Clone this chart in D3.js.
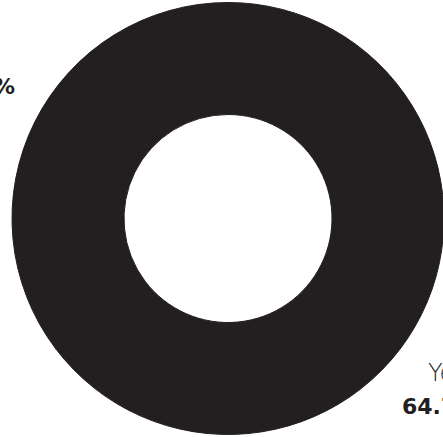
<!DOCTYPE html>
<html><head><meta charset="utf-8">
<script src="https://cdn.jsdelivr.net/npm/d3@7"></script>
<style>html,body{margin:0;padding:0;background:#fff;overflow:hidden}</style>
</head><body>
<svg id="c" width="443" height="437"></svg>
<script>
const categories = ["Yes", "No"];
const values = [64.7, 35.3];
const colors = ["#231f20", "#231f20"];

const cx = 228, cy = 218.5, rOuter = 216, rInner = 104;
const svg = d3.select("#c");
const data = categories.map((c, i) => ({cat: c, val: values[i]}));
const pie = d3.pie().value(d => d.val).sort(null).startAngle(0);
const arc = d3.arc().innerRadius(rInner).outerRadius(rOuter);
const g = svg.append("g").attr("transform", `translate(${cx},${cy})`);
g.selectAll("path").data(pie(data)).join("path")
  .attr("d", arc).attr("fill", (d, i) => colors[i])
  .attr("stroke", (d, i) => colors[i]).attr("stroke-width", 1);

// labels (outside, partly cut by the frame)
const labels = [
  {name: categories[0], pct: values[0], x: 428, xp: 402, y1: 381, y2: 414, anchor: "start"},
  {name: categories[1], pct: values[1], x: -30, xp: 15, y1: 60, y2: 94, anchor: "end"}
];
labels.forEach(l => {
  svg.append("text").attr("x", l.x).attr("y", l.y1)
    .attr("text-anchor", l.anchor)
    .attr("font-family", "'DejaVu Sans', sans-serif").attr("font-weight", 200)
    .attr("font-size", 24).attr("fill", "#231f20").text(l.name);
  svg.append("text").attr("x", l.xp).attr("y", l.y2)
    .attr("text-anchor", l.anchor)
    .attr("font-family", "'DejaVu Sans', sans-serif").attr("font-weight", 700)
    .attr("font-size", 22).attr("fill", "#231f20").text(l.pct.toFixed(1) + "%");
});
</script>
</body></html>
